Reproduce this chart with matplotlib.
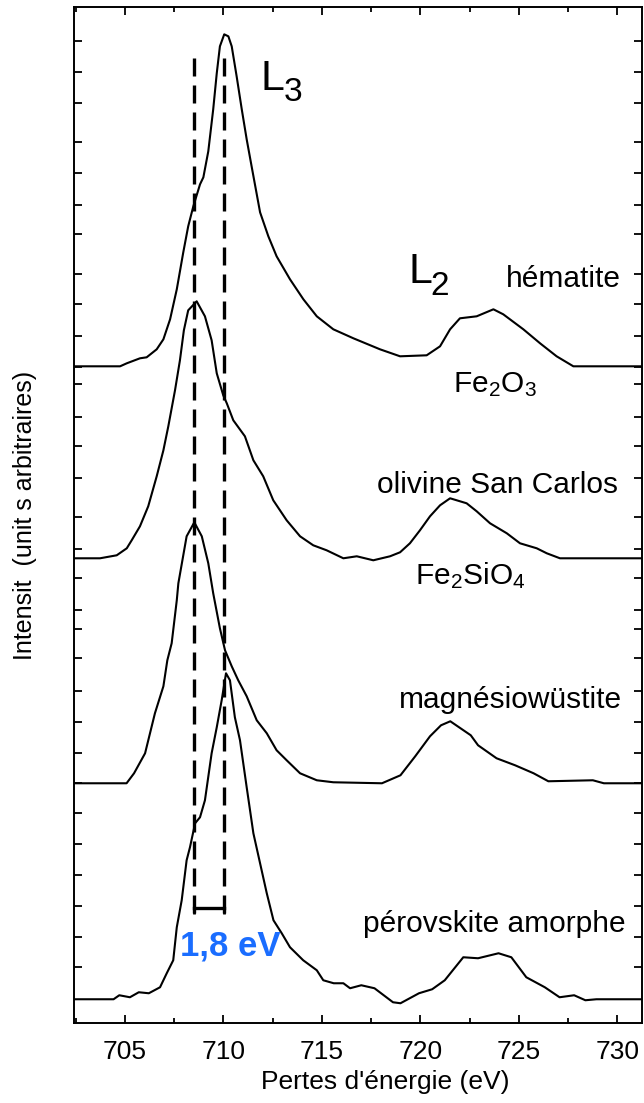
import matplotlib
matplotlib.use("Agg")
import matplotlib.pyplot as plt
from matplotlib.ticker import FixedLocator, MultipleLocator

plt.rcParams['font.family'] = ['Liberation Sans', 'DejaVu Sans']
plt.rcParams['mathtext.fontset'] = 'custom'
plt.rcParams['mathtext.rm'] = 'Liberation Sans'
plt.rcParams['mathtext.default'] = 'regular'

# energies (eV) and intensities above each baseline
hem_e = [702.4, 703.73, 704.75, 705.09, 705.76, 706.10, 706.61, 706.95, 707.29, 707.63,
         707.96, 708.21, 708.47, 708.81, 708.98, 709.23, 709.48, 709.66, 709.82, 710.04,
         710.25, 710.42, 710.67, 710.93, 711.18, 711.43, 711.86, 712.28, 712.70, 713.38,
         714.06, 714.74, 715.58, 716.60, 717.95, 718.97, 720.32, 721.00, 721.51, 722.01,
         722.86, 723.71, 724.21, 725.23, 726.08, 726.92, 727.77, 731.3]
hem_i = [0, 0, 0, 3, 8, 9, 17, 27, 47, 77,
         114, 140, 160, 182, 189, 215, 257, 293, 320, 332,
         330, 320, 290, 257, 227, 200, 154, 130, 110, 87,
         67, 50, 37, 28, 17, 10, 11, 20, 37, 48,
         50, 57, 52, 37, 23, 10, 0, 0]

oli_e = [702.4, 703.73, 704.58, 705.09, 705.34, 705.76, 706.18, 706.61, 706.95, 707.20,
         707.54, 707.79, 707.99, 708.21, 708.64, 709.06, 709.40, 709.66, 709.99, 710.17,
         710.50, 711.09, 711.52, 712.02, 712.53, 713.21, 713.89, 714.56, 715.24, 716.09,
         716.77, 717.61, 718.46, 718.97, 719.47, 719.98, 720.49, 721.00, 721.51, 722.35,
         722.86, 723.54, 724.39, 725.06, 725.91, 726.42, 727.09, 731.3]
oli_i = [0, 0, 3, 10, 18, 32, 52, 82, 108, 132,
         168, 198, 228, 248, 257, 242, 218, 185, 163, 155,
         138, 122, 98, 82, 58, 38, 22, 13, 8, 0,
         2, -2, 2, 6, 15, 28, 42, 53, 60, 55,
         47, 35, 25, 15, 10, 5, 0, 0]

mag_e = [702.4, 705.08, 705.46, 706.02, 706.27, 706.52, 706.95, 707.15, 707.37, 707.63,
         707.71, 708.13, 708.52, 708.90, 709.23, 709.48, 709.82, 710.08, 710.42, 710.75,
         711.18, 711.69, 712.20, 712.70, 713.21, 713.89, 714.74, 715.58, 718.05, 718.99,
         719.74, 720.49, 721.05, 721.52, 722.56, 722.93, 723.87, 724.81, 725.75, 726.50,
         728.76, 729.32, 731.3]
mag_i = [0, 0, 10, 30, 50, 70, 97, 123, 140, 183,
         200, 247, 261, 247, 220, 190, 155, 133, 117, 103,
         87, 63, 50, 33, 23, 10, 3, 1, 0, 8,
         27, 47, 58, 62, 48, 38, 25, 18, 10, 2,
         3, 0, 0]

per_e = [702.4, 704.42, 704.71, 705.25, 705.7, 706.21, 706.78, 707.12, 707.45, 707.63,
         707.88, 708.13, 708.30, 708.56, 708.81, 709.06, 709.40, 709.66, 709.91, 710.13,
         710.33, 710.58, 710.84, 711.18, 711.52, 711.86, 712.20, 712.54, 712.96, 713.38,
         714.05, 714.74, 715.07, 715.6, 716.09, 716.43, 717.0, 717.67, 718.61, 718.99,
         719.93, 720.6, 721.24, 722.18, 722.93, 723.97, 724.62, 725.38, 726.32, 727.07,
         727.81, 728.38, 728.94, 731.3]
per_i = [0, 0, 4, 2, 7, 6, 12, 26, 39, 72,
         99, 139, 152, 176, 182, 199, 246, 272, 299, 326,
         319, 282, 259, 212, 166, 136, 106, 79, 66, 52,
         39, 29, 19, 16, 16, 11, 14, 11, -3, -4,
         6, 10, 19, 42, 41, 46, 42, 22, 12, 2,
         4, -1, 0, 0]

offsets = [657, 465, 240, 24]
names = ['hématite', 'olivine San Carlos', 'magnésiowüstite', 'pérovskite amorphe']
peak_marks = [708.52, 710.03]

fig = plt.figure(figsize=(6.44, 11.03), dpi=100)
ax = fig.add_axes([0.1149, 0.0723, 0.8815, 0.9216])

for e, i, off in zip([hem_e, oli_e, mag_e, per_e], [hem_i, oli_i, mag_i, per_i], offsets):
    ax.plot(e, [v + off for v in i], color='black', lw=1.5)

for xm in peak_marks:
    ax.plot([xm, xm], [965, 110], color='black', lw=2.4, ls=(0, (5.4, 2.7)))
ax.plot(peak_marks, [115, 115], color='black', lw=2.4, marker='|', ms=8, mew=2)
ax.text(710.33, 68, '1,8 eV', color='#1a6dff', fontsize=25, fontweight='bold',
        ha='center', va='baseline')

ax.text(711.86, 933, 'L', fontsize=31, ha='left', va='baseline')
ax.text(713.04, 922, '3', fontsize=24, ha='left', va='baseline')
ax.text(719.39, 740, 'L', fontsize=31, ha='left', va='baseline')
ax.text(720.49, 728, '2', fontsize=24, ha='left', va='baseline')

lab_x = [730.16, 730.05, 730.26, 730.44]
lab_y = [736, 530, 315, 91]
for n, lx, ly in zip(names, lab_x, lab_y):
    ax.text(lx, ly, n, fontsize=21.5, ha='right', va='baseline')
ax.text(721.67, 631, 'Fe$_2$O$_3$', fontsize=21.5, ha='left', va='baseline')
ax.text(719.73, 439, 'Fe$_2$SiO$_4$', fontsize=21.5, ha='left', va='baseline')

ax.set_xlim(702.41, 731.24)
ax.set_ylim(0, 1016.6)
ax.xaxis.set_major_locator(MultipleLocator(5))
ax.xaxis.set_minor_locator(MultipleLocator(2.5))
yt = [982, 951, 920, 881, 850, 818, 789, 749, 719, 687, 656, 639, 606, 577, 545, 506,
      474, 445, 413, 394, 365, 332, 301, 270, 240, 210, 179, 148, 117, 86, 56]
ax.yaxis.set_major_locator(FixedLocator(yt))
ax.set_yticklabels([])
ax.tick_params(axis='both', which='major', direction='in', top=True, right=True,
               length=6, width=1.3, labelsize=19, pad=12)
ax.tick_params(axis='x', which='minor', direction='in', top=True, length=3.5, width=1.3)
for s in ax.spines.values():
    s.set_linewidth(1.4)

fig.text(0.0388, 0.533, 'Intensit  (unit s arbitraires)', rotation=90, fontsize=18,
         ha='center', va='center')
fig.text(0.5988, 0.019, "Pertes d'énergie (eV)", fontsize=19, ha='center', va='center')

fig.savefig('out.png', dpi=100)
